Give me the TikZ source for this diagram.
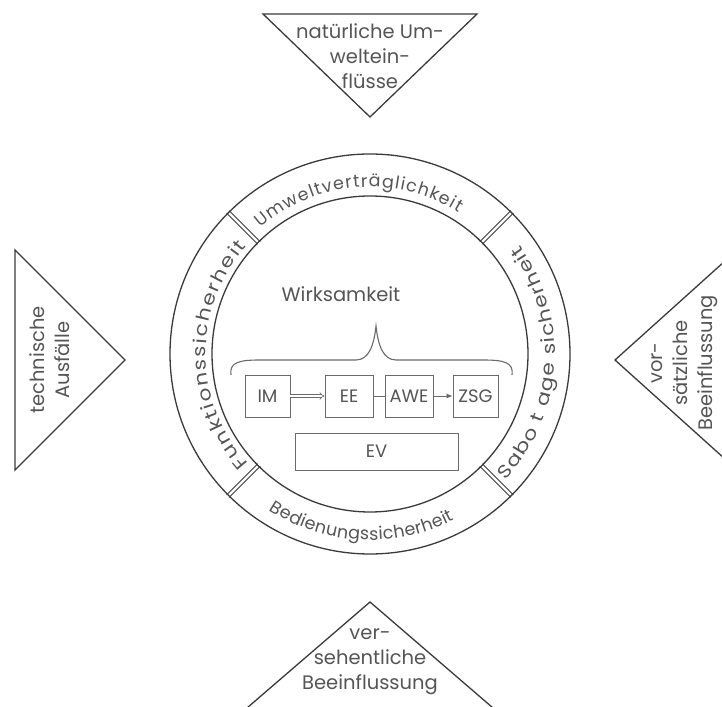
\documentclass[tikz,border=0pt]{standalone}
\usepackage{fontspec}
\setmainfont{Poppins}
\newfontfamily\sidefamily[FakeStretch=1.2]{Poppins}
\usetikzlibrary{decorations.text,arrows.meta,calc}
\definecolor{lin}{HTML}{3A3A3A}
\definecolor{txt}{HTML}{555555}
\definecolor{boxl}{HTML}{6A6A6A}
\newcommand\trifont{\fontsize{19.5}{25}\selectfont}
\newcommand\ringfnt{\fontsize{17.5}{20}\selectfont}
\newcommand\sidefnt{\sidefamily\fontsize{18}{20}\selectfont}
\tikzset{
 tri/.style={draw=lin, line width=1.3pt, line join=miter},
 trilabel/.style={align=center, text=txt, font=\trifont, inner sep=0pt},
 ringline/.style={draw=lin, line width=1.3pt},
 sep/.style={draw=lin, line width=0.9pt},
 procbox/.style={draw=boxl, line width=0.9pt, minimum height=42pt, text=txt, font=\fontsize{18}{20}\selectfont, inner sep=0pt},
 ringtext/.style={decorate, decoration={text along path, text align=fit to path, text color=txt, text={|\ringfnt|#1}}},
 sidetext/.style={decorate, decoration={text along path, text align=fit to path, text color=txt, text={|\sidefnt|#1}}},
}
\begin{document}
\begin{tikzpicture}[x=1pt,y=1pt]
\useasboundingbox (0,0) rectangle (722,706);
\coordinate (C) at (370,352);
% triangles
\draw[tri] (263,692) -- (477,692) -- (370,589) -- cycle;
\draw[tri] (15,456) -- (15,236) -- (125,346) -- cycle;
\draw[tri] (735,454) -- (615,346) -- (735,238);
\draw[tri] (240,-8) -- (370,104) -- (500,-8);
\node[trilabel] (tN) at (370,650) {natürliche Um-\\weltein-\\flüsse};
\node[trilabel, rotate=90] (tW) at (50,346) {technische\\Ausfälle};
\node[trilabel, rotate=90] (tE) at (685,343) {vor-\\sätzliche\\Beeinflussung};
\node[trilabel] (tS) at (370,44) {ver-\\sehentliche\\Beeinflussung};
% ring
\draw[ringline] (C) circle (200pt);
\draw[ringline] (C) circle (158pt);
\foreach \a in {45,135,225,315}{
  \begin{scope}[shift={(C)},rotate=\a]
    \draw[sep] (157,1.8) -- (201,1.8);
    \draw[sep] (157,-1.8) -- (201,-1.8);
  \end{scope}
}
\path[ringtext=Umweltverträglichkeit] (C) ++(131:167pt) arc[start angle=131, end angle=58, radius=167pt];
\path[sidetext=Funktionssicherheit] (C) ++(222:164pt) arc[start angle=222, end angle=139, radius=164pt];
\path[sidetext=Sabo t age sicherheit] (C) ++(-43:185pt) arc[start angle=-43, end angle=36, radius=185pt];
\path[ringtext=Bedienungssicherheit] (C) ++(237:186pt) arc[start angle=237, end angle=297, radius=186pt];
% inner content
\node[text=txt, font=\fontsize{19.5}{24}\selectfont, inner sep=0pt] (wirk) at (341,412) {Wirksamkeit};
\draw[boxl, line width=1.1pt] (231,331) .. controls (229,344) and (240,346) .. (260,346) -- (356,346) .. controls (369,346) and (374,361) .. (376,380) .. controls (378,361) and (383,346) .. (396,346) -- (483,346) .. controls (503,346) and (514,344) .. (512,331);
\node[procbox, minimum width=45pt] (im) at (267.5,310) {IM};
\node[procbox, minimum width=48pt] (ee) at (349,310) {EE};
\node[procbox, minimum width=48pt] (awe) at (409,310) {AWE};
\node[procbox, minimum width=45pt] (zsg) at (475.5,310) {ZSG};
\node[procbox, minimum width=163pt, minimum height=37pt] (ev) at (376.5,254.5) {EV};
\draw[boxl, double, double distance=2pt, line width=0.6pt, -{Implies}] (im) -- (ee);
\draw[boxl, line width=0.8pt] (ee) -- (awe);
\draw[boxl, line width=0.8pt, -{Latex[length=6pt,width=5pt]}] (awe) -- (zsg);
\end{tikzpicture}
\end{document}
